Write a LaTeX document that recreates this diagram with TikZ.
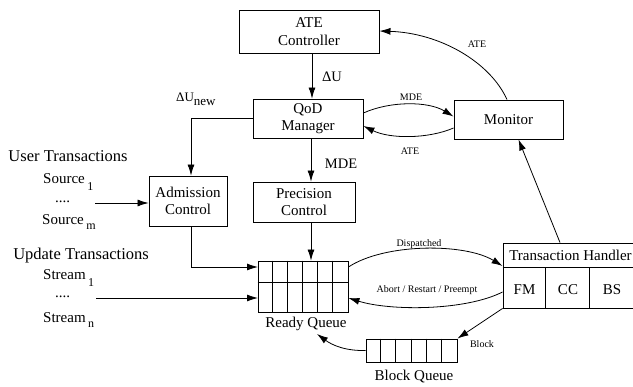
\documentclass[tikz,border=0pt]{standalone}
\usepackage{fontspec}
\setmainfont{Liberation Serif}
\usetikzlibrary{arrows.meta}
\begin{document}
\begin{tikzpicture}[x=1pt,y=-1pt,
  box/.style={draw,line width=0.9pt,inner sep=0pt,align=center,font=\fontsize{15}{17.5}\selectfont},
  grid/.style={draw,line width=0.9pt,inner sep=0pt},
  arr/.style={line width=0.8pt,-{Latex[length=11pt,width=7pt]}},
  big/.style={inner sep=0pt,font=\fontsize{15}{17}\selectfont},
  side/.style={inner sep=0pt,font=\fontsize{16.5}{19}\selectfont},
  mid/.style={inner sep=0pt,font=\fontsize{14.5}{17}\selectfont},
  sml/.style={inner sep=0pt,font=\fontsize{10}{12}\selectfont}]
\useasboundingbox (0,0) rectangle (633,387);

% boxes
\node[box,minimum width=140pt,minimum height=43pt] (ate) at (309,31.5) {ATE\\Controller};
\node[box,minimum width=110pt,minimum height=39pt] (qod) at (308,118.5) {QoD\\Manager};
\node[box,minimum width=109pt,minimum height=39pt] (mon) at (508.5,119.5) {Monitor};
\node[box,minimum width=78pt,minimum height=50pt] (adm) at (188,201) {Admission\\Control};
\node[box,minimum width=102pt,minimum height=40pt] (prec) at (304,202) {Precision\\Control};

% ready queue
\node[grid,minimum width=90pt,minimum height=51pt] (rq) at (303,286.5) {};
\foreach \i in {1,...,5} \draw[line width=0.8pt] (rq.north west) ++(15*\i,0) -- ++(0,51);
\draw[line width=0.8pt] (rq.north west) ++(0,22) -- ++(90,0);
\node[big,anchor=base] (rqlbl) at (306,328) {Ready Queue};

% block queue
\node[grid,minimum width=91pt,minimum height=23pt] (bq) at (411.5,350.5) {};
\foreach \i in {1,...,5} \draw[line width=0.8pt] (bq.north west) ++(15.17*\i,0) -- ++(0,23);
\node[big,anchor=base] (bqlbl) at (414,380.5) {Block Queue};

% transaction handler
\node[grid,minimum width=137pt,minimum height=65pt] (th) at (571.5,275.5) {};
\draw[line width=0.8pt] (th.north west) ++(0,25) -- ++(137,0);
\draw[line width=0.8pt] (th.north west) ++(43,25) -- ++(0,40);
\draw[line width=0.8pt] (th.north west) ++(87,25) -- ++(0,40);
\node[big] (thlbl) at (570.5,255.5) {Transaction Handler};
\node[big] (fm) at (524.5,290) {FM};
\node[big] (cc) at (568,290) {CC};
\node[big] (bs) at (612,290) {BS};

% left texts
\node[side] (ut) at (68,156) {User Transactions};
\node[big,anchor=base west] (s1) at (43,184) {Source\hspace{2.5pt}\raisebox{-7pt}{\fontsize{12}{12}\selectfont 1}};
\node[big,anchor=base west] (d1) at (55,203) {....};
\node[big,anchor=base west] (sm) at (42,225) {Source\hspace{2.5pt}\raisebox{-5pt}{\fontsize{12}{12}\selectfont m}};
\node[side] (upd) at (81,256) {Update Transactions};
\node[big,anchor=base west] (st1) at (43,280) {Stream\hspace{2.5pt}\raisebox{-7pt}{\fontsize{12}{12}\selectfont 1}};
\node[big,anchor=base west] (d2) at (55,298) {....};
\node[big,anchor=base west] (stn) at (43,323) {Stream\hspace{2.5pt}\raisebox{-5pt}{\fontsize{12}{12}\selectfont n}};

% labels
\node[inner sep=0pt,anchor=base west,font=\fontsize{13}{15}\selectfont] (dun) at (176,102) {ΔU\raisebox{-4pt}{new}};
\node[mid] (du) at (332,77) {ΔU};
\node[mid] (mde2) at (341,164) {MDE};
\node[sml] (mde1) at (411,97) {MDE};
\node[sml] (ate1) at (410,151) {ATE};
\node[sml] (ate2) at (477,44) {ATE};
\node[sml] (disp) at (419,244) {Dispatched};
\node[sml] (abrt) at (427,290) {Abort / Restart / Preempt};
\node[sml] (blk) at (482,344) {Block};

% coordinates
\coordinate (rqa) at (258,267);
\coordinate (rqb) at (258,298);
\coordinate (src) at (95,203);
\coordinate (stm) at (96,298);
\coordinate (bqend) at (317,334);

% connectors
\draw[arr] ([xshift=3pt]ate.south) -- ([xshift=3pt]ate.south |- qod.north);
\draw[arr] (qod.west) -| ([xshift=3pt]adm.north);
\draw[arr] ([xshift=3pt]adm.south) |- (rqa);
\draw[arr] (src) -- (src -| adm.west);
\draw[arr] (stm) -- (rqb);
\draw[arr] ([xshift=3pt]qod.south) -- ([xshift=3pt]qod.south |- prec.north);
\draw[arr] ([xshift=7pt]prec.south) -- ([xshift=7pt]prec.south |- rq.north);
\draw[arr] ([yshift=5.5pt]qod.east) .. controls (390,101) and (428,101) .. ([yshift=3pt]mon.west);
\draw[arr] ([yshift=-8.5pt]mon.west) .. controls (428,139) and (390,139) .. ([yshift=-7.5pt]qod.east);
\draw[arr] ([xshift=-1.5pt]mon.north) .. controls (490,62) and (440,33) .. ([yshift=0.5pt]ate.east);
\draw[arr] ([xshift=-11.5pt]th.north) -- ([xshift=10pt]mon.south);
\draw[arr] (rq.east |- rqa) .. controls (385,243) and (465,243) .. ([yshift=9.5pt]th.west);
\draw[arr] ([yshift=-16.5pt]th.west) .. controls (465,311) and (390,311) .. (rq.east |- rqb);
\draw[arr] (th.south west) -- (bq.north east);
\draw[arr] (bq.west) .. controls (345,351) and (332,345) .. (bqend);
\end{tikzpicture}
\end{document}
